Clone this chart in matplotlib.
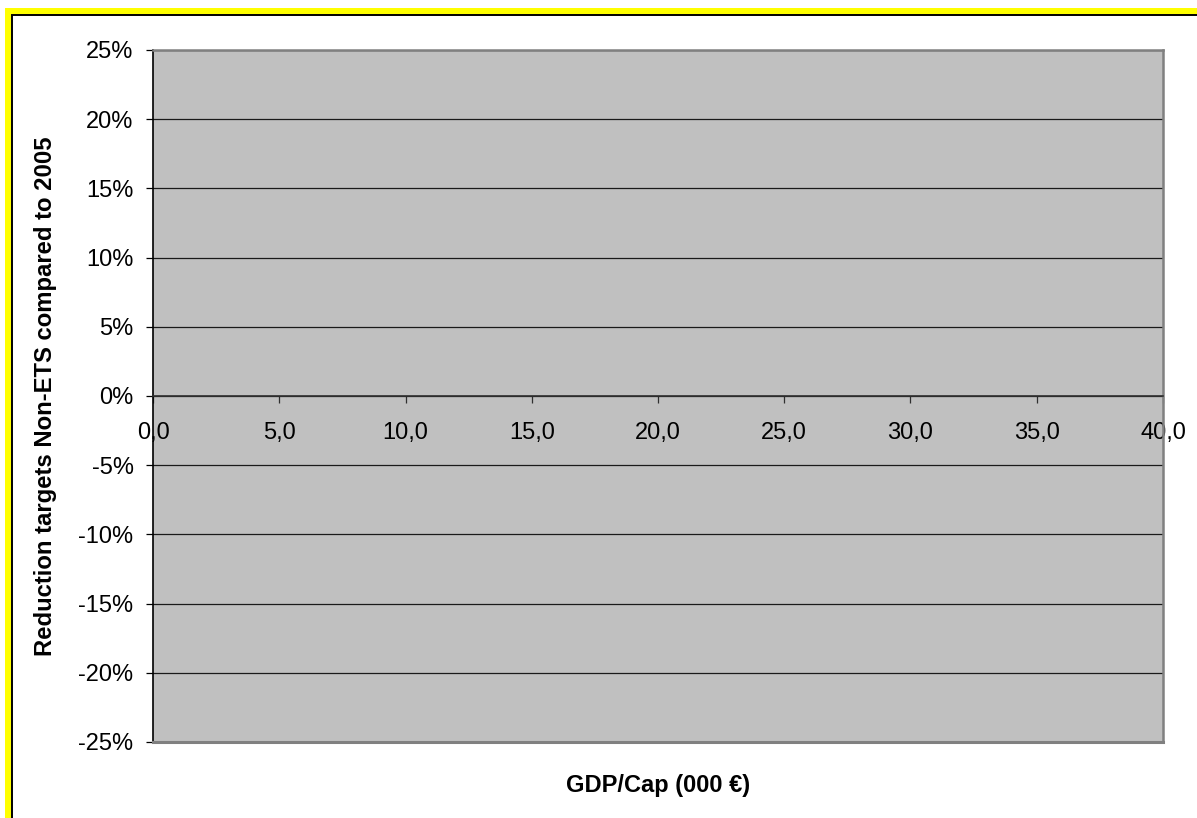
import matplotlib
matplotlib.use("Agg")
import matplotlib.pyplot as plt
from matplotlib.patches import Rectangle
from matplotlib.ticker import FuncFormatter, MultipleLocator

# axis setup (empty scatter frame: GDP per capita vs. non-ETS targets)
x_min, x_max, x_step = 0.0, 40.0, 5.0
y_min, y_max, y_step = -0.25, 0.25, 0.05
x_title = "GDP/Cap (000 €)"
y_title = "Reduction targets Non-ETS compared to 2005"

W, H = 1197, 818
plt.rcParams['font.family'] = ['Liberation Sans', 'DejaVu Sans']

fig = plt.figure(figsize=(W / 100, H / 100), dpi=100)
fig.patch.set_facecolor('white')

# yellow frame with thin black inner line (open to the right/bottom)
fig.add_artist(Rectangle((5 / W, -0.1), 1.2, 1 - 8 / H + 0.1, transform=fig.transFigure,
                         facecolor='#ffff00', edgecolor='none', zorder=-2))
fig.add_artist(Rectangle((11.5 / W, -0.1), 1.2, 1 - 15.5 / H + 0.1, transform=fig.transFigure,
                         facecolor='white', edgecolor='black', linewidth=1.4, zorder=-1))

ax = fig.add_axes([153 / W, 1 - 742 / H, (1163 - 153) / W, (742 - 50) / H])
ax.set_facecolor('#c0c0c0')
ax.set_xlim(x_min, x_max)
ax.set_ylim(y_min, y_max)

ax.yaxis.set_major_locator(MultipleLocator(y_step))
ax.xaxis.set_major_locator(MultipleLocator(x_step))
ax.yaxis.set_major_formatter(FuncFormatter(lambda v, p: f"{v * 100:.0f}%"))
ax.xaxis.set_major_formatter(FuncFormatter(lambda v, p: f"{v:.1f}".replace('.', ',')))

ax.grid(axis='y', color='#1a1a1a', linewidth=0.9)
ax.set_axisbelow(True)

# x axis crosses at 0%
ax.spines['bottom'].set_position(('data', 0))
ax.spines['bottom'].set_color('#303030')
ax.spines['bottom'].set_linewidth(1.2)
ax.spines['left'].set_color('black')
ax.spines['left'].set_linewidth(1.2)
for s in ('top', 'right'):
    ax.spines[s].set_color('#808080')
    ax.spines[s].set_linewidth(1.8)
ax.axhline(y_min, color='#808080', linewidth=2.2, clip_on=False, zorder=3)

ax.tick_params(axis='y', direction='out', length=5, width=0.9, pad=9, labelsize=17)
ax.tick_params(axis='x', direction='out', length=5, width=0.9, pad=14, labelsize=17,
               color='#303030')

fig.text(658 / W, 1 - 792 / H, x_title, ha='center', va='baseline',
         fontsize=17, fontweight='bold')
fig.text(46 / W, 1 - 396 / H, y_title, ha='center', va='center', rotation=90,
         fontsize=17.2, fontweight='bold')

fig.savefig('out.png', dpi=100)
